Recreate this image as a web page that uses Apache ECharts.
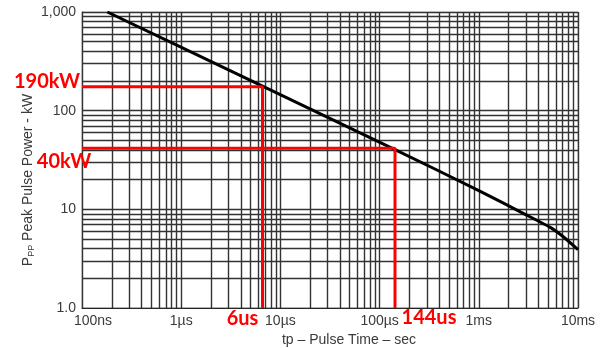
<!DOCTYPE html>
<html>
<head>
<meta charset="utf-8">
<script src="https://cdn.jsdelivr.net/npm/echarts@6/dist/echarts.min.js"></script>
<style>
html,body{margin:0;padding:0;background:#fff;}
#c{width:606px;height:348px;}
</style>
</head>
<body>
<div id="c"></div>
<script>
// Tick labels
const xTickLabels = ['100ns', '1\u00b5s', '10\u00b5s', '100\u00b5s', '1ms', '10ms'];
const xFirstExponent = -7;
const yTickLabels = ['1.0', '10', '100', '1,000'];
const gridMultipliers = [1, 2, 3, 4, 5, 6, 7, 8, 9];
const xDecades = [1e-7, 1e-6, 1e-5, 1e-4, 1e-3];
const yDecades = [1, 10, 100];
const xMax = 1e-2, yMax = 1000, xMin = 1e-7, yMin = 1;

// Curve: pulse time (s) vs peak pulse power (kW)
const pulseTime = [1.8e-7, 6.6e-6, 1.43e-4, 1e-3, 3e-3, 5.2e-3, 7.06e-3, 1e-2];
const peakPower = [1000, 177, 40.3, 15.5, 8.8, 6.6, 5.3, 3.9];

// Red read-off markers
const markerTime = [6.6e-6, 1.43e-4];
const markerPower = [175, 41.5];
const markerPowerText = ['190kW', '40kW'];
const markerTimeText = ['6us', '144us'];
const powerLabelOffset = [[-35, -5], [-18, 13]];
const timeLabelOffset = [[-20, 11], [34, 10]];

const axisColor = '#3a3a3a';
const gridColor = '#333333';
const fontFam = '"Liberation Sans", Arial, sans-serif';

const gridSegments = [];
xDecades.forEach(d => gridMultipliers.forEach(m => gridSegments.push({ coords: [[m * d, yMin], [m * d, yMax]] })));
gridSegments.push({ coords: [[xMax, yMin], [xMax, yMax]] });
yDecades.forEach(d => gridMultipliers.forEach(m => gridSegments.push({ coords: [[xMin, m * d], [xMax, m * d]] })));
gridSegments.push({ coords: [[xMin, yMax], [xMax, yMax]] });

const redLabel = {
  show: true, position: 'inside', color: '#ff0000', fontFamily: 'Lato, "Open Sans", sans-serif',
  fontWeight: 'bold', fontSize: 20
};

const markerSeries = markerTime.map((t, i) => ({
  type: 'line', z: 5, silent: true, animation: false,
  symbol: 'circle', symbolSize: 0, showSymbol: true,
  lineStyle: { color: '#ff0000', width: 3 },
  itemStyle: { color: '#ff0000' },
  data: [
    { value: [xMin, markerPower[i]], label: Object.assign({}, redLabel, { formatter: markerPowerText[i], offset: powerLabelOffset[i] }) },
    { value: [t, markerPower[i]] },
    { value: [t, yMin], label: Object.assign({}, redLabel, { formatter: markerTimeText[i], offset: timeLabelOffset[i] }) }
  ]
}));

const chart = echarts.init(document.getElementById('c'), null, { renderer: 'canvas' });
chart.setOption({
  backgroundColor: '#fff',
  animation: false,
  grid: { left: 82, right: 28, top: 12, bottom: 40, outerBoundsMode: 'none', containLabel: false,
          show: true, borderColor: '#bdbdbd', borderWidth: 1 },
  xAxis: {
    type: 'log', logBase: 10, min: xMin, max: xMax,
    splitNumber: 5,
    axisLine: { show: true, lineStyle: { color: '#000', width: 1 } },
    axisTick: { show: false },
    splitLine: { show: false },
    axisLabel: {
      color: axisColor, fontFamily: fontFam, fontSize: 14, margin: 6,
      formatter: v => {
        const idx = Math.round(Math.log10(v)) - xFirstExponent;
        return idx === 0 ? '{first|' + xTickLabels[idx] + '}' : xTickLabels[idx];
      },
      rich: { first: { color: axisColor, fontFamily: fontFam, fontSize: 14, padding: [0, 0, 0, 22] } }
    },
    name: 'tp \u2013 Pulse Time \u2013 sec',
    nameLocation: 'middle', nameGap: 25, nameMoveOverlap: false,
    nameTextStyle: { color: axisColor, fontFamily: fontFam, fontSize: 14, padding: [0, 0, 0, 38] }
  },
  yAxis: {
    type: 'log', logBase: 10, min: yMin, max: yMax,
    splitNumber: 3,
    axisLine: { show: true, lineStyle: { color: '#000', width: 1 } },
    axisTick: { show: false },
    splitLine: { show: false },
    axisLabel: {
      color: axisColor, fontFamily: fontFam, fontSize: 14, margin: 6,
      formatter: v => yTickLabels[Math.round(Math.log10(v))]
    },
    name: '{p|P}{s|PP}{p| Peak Pulse Power - kW}',
    nameLocation: 'middle', nameGap: 46, nameMoveOverlap: false,
    nameTextStyle: {
      color: axisColor, fontFamily: fontFam, fontSize: 14, padding: [0, 40, 0, 0],
      rich: {
        p: { color: axisColor, fontFamily: fontFam, fontSize: 14 },
        s: { color: axisColor, fontFamily: fontFam, fontSize: 9, padding: [7, 0, 0, 0] }
      }
    }
  },
  series: [
    {
      type: 'lines', coordinateSystem: 'cartesian2d', z: 1, silent: true, animation: false,
      polyline: false,
      lineStyle: { color: gridColor, width: 1.4, opacity: 1, type: 'solid' },
      data: gridSegments
    },
    {
      type: 'line', z: 3, silent: true, animation: false,
      showSymbol: false, smooth: 0.15,
      lineStyle: { color: '#000', width: 3 },
      data: pulseTime.map((t, i) => [t, peakPower[i]])
    }
  ].concat(markerSeries)
});
</script>
</body>
</html>
